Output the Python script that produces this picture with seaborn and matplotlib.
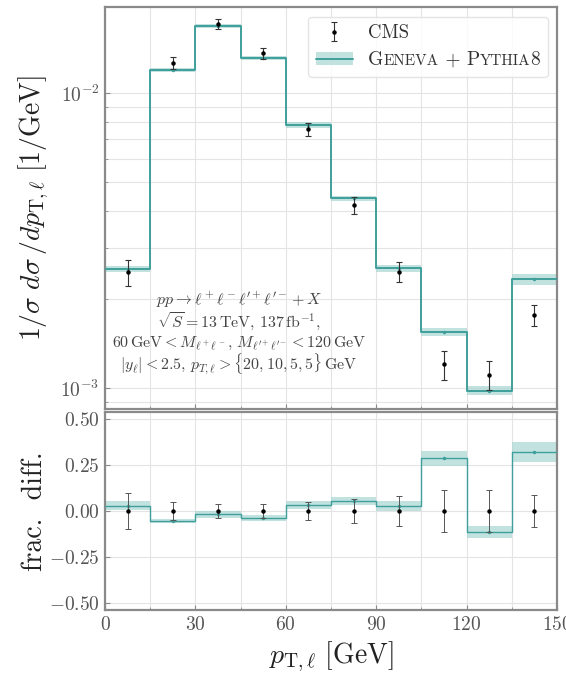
import numpy as np
import matplotlib
matplotlib.use("Agg")
import matplotlib.pyplot as plt
import matplotlib.ticker as mticker
import seaborn as sns
from matplotlib.patches import Patch
from matplotlib.lines import Line2D
from matplotlib.offsetbox import TextArea, HPacker

# ---------------- data ----------------
bin_edges = [0, 15, 30, 45, 60, 75, 90, 105, 120, 135, 150]
cms = [2.47e-3, 1.27e-2, 1.722e-2, 1.366e-2, 7.55e-3, 4.18e-3, 2.485e-3, 1.206e-3, 1.109e-3, 1.772e-3]
cms_rel_err = [0.10, 0.047, 0.038, 0.040, 0.049, 0.064, 0.080, 0.112, 0.112, 0.085]
geneva = [2.54e-3, 1.20e-2, 1.69e-2, 1.314e-2, 7.80e-3, 4.41e-3, 2.55e-3, 1.553e-3, 9.83e-4, 2.34e-3]
geneva_band = [0.025, 0.012, 0.017, 0.015, 0.022, 0.020, 0.028, 0.041, 0.031, 0.053]  # relative to CMS
x_ticks = [0, 30, 60, 90, 120, 150]
ratio_ticks = [-0.50, -0.25, 0.00, 0.25, 0.50]

edges = np.array(bin_edges, dtype=float)
centers = 0.5 * (edges[:-1] + edges[1:])
cms_a = np.array(cms)
cms_err = cms_a * np.array(cms_rel_err)
gen_a = np.array(geneva)
band_abs = cms_a * np.array(geneva_band)
frac = gen_a / cms_a - 1.0
frac_band = np.array(geneva_band)

def ext(v):
    v = np.asarray(v)
    return np.append(v, v[-1])

# ---------------- style ----------------
sns.set_theme(style="whitegrid")
plt.rcParams.update({
    "font.family": "serif",
    "font.serif": ["cmr10", "DejaVu Serif"],
    "mathtext.fontset": "cm",
    "axes.formatter.use_mathtext": True,
    "axes.unicode_minus": True,
})

teal = "#3f9f9c"
band_col = "#a9d6d2"
spine_col = "#8a8a8a"
grid_col = "#e4e4e4"
tick_col = "#555555"
label_col = "#222222"

fig = plt.figure(figsize=(5.66, 6.76), dpi=100)
ax1 = fig.add_axes([0.1855, 0.3950, 0.7986, 0.5942])
ax2 = fig.add_axes([0.1855, 0.0976, 0.7986, 0.2929], sharex=ax1)

for ax in (ax1, ax2):
    ax.set_facecolor("white")
    for s in ax.spines.values():
        s.set_color(spine_col)
        s.set_linewidth(1.6)
    ax.tick_params(direction="in", length=3.5, width=0.8, color=spine_col, pad=4,
                   labelsize=14, labelcolor=tick_col, bottom=True, left=True)
    ax.tick_params(which="minor", direction="in", length=2, width=0.6, color=spine_col,
                   bottom=True, left=True)
    ax.grid(True, which="both", color=grid_col, linewidth=0.8)

# ---------------- top panel ----------------
ax1.fill_between(edges, ext(gen_a - band_abs), ext(gen_a + band_abs), step="post",
                 color=band_col, alpha=0.7, linewidth=0, zorder=2)
sns.lineplot(x=edges, y=ext(gen_a), drawstyle="steps-post", color=teal, linewidth=1.4,
             estimator=None, sort=False, ax=ax1, zorder=3)
ax1.plot(centers, gen_a, ls="none", marker="o", ms=1.5, color=teal, zorder=3)
ax1.errorbar(centers, cms_a, yerr=cms_err, fmt="o", ms=2.2, color="black",
             ecolor="#333333", elinewidth=0.8, capsize=2, capthick=0.8, zorder=4)

ax1.set_yscale("log")
ax1.set_ylim(8.51e-4, 1.956e-2)
ax1.set_xlim(0, 150)
ax1.yaxis.set_minor_locator(mticker.LogLocator(base=10, subs=np.arange(2, 10)))
ax1.yaxis.set_minor_formatter(mticker.NullFormatter())
ax1.xaxis.set_minor_locator(mticker.MultipleLocator(15))
ax1.tick_params(labelbottom=False)
ax1.set_ylabel(r"$1/\sigma\ d\sigma\, /dp_{\mathrm{T},\ell}\ [1/\mathrm{GeV}]$",
               fontsize=20, color=label_col)
ax1.yaxis.set_label_coords(-0.12, 0.5)

ann = [r"$pp \to \ell^+\ell^-\ell^{\prime +}\ell^{\prime -} + X$",
       r"$\sqrt{S} = 13\,\mathrm{TeV},\, 137\,\mathrm{fb}^{-1},$",
       r"$60\,\mathrm{GeV} < M_{\ell^+\ell^-},\, M_{\ell^{\prime +}\ell^{\prime -}} < 120\,\mathrm{GeV}$",
       r"$|y_\ell| < 2.5,\, p_{T,\ell} > \{20, 10, 5, 5\}\,\mathrm{GeV}$"]
ann_y = [300, 322, 343, 364]
for s, yp in zip(ann, ann_y):
    ax1.text((239 - 105) / 452, (409 - yp) / (409 - 7.3), s, transform=ax1.transAxes,
             ha="center", va="center", fontsize=11.5, color="#444444")

h_cms = ax1.errorbar([np.nan], [np.nan], yerr=[1.0], fmt="o", ms=2.2, color="black",
                     ecolor="#333333", elinewidth=0.8, capsize=2, capthick=0.8)
h_gen = (Patch(facecolor=band_col, alpha=0.7, edgecolor="none"),
         Line2D([], [], color=teal, linewidth=1.4))
leg = ax1.legend([h_cms, h_gen], ["CMS", "GENEVA + PYTHIA8"], loc="upper right",
                 fontsize=13.5, frameon=True, fancybox=True, framealpha=0.85,
                 edgecolor="#e0e0e0", facecolor="white", borderaxespad=0.5)
for t in leg.get_texts():
    t.set_color("#333333")

# small-caps label built from pieces
big, small = 14, 11
pieces = [("G", big), ("ENEVA", small), (" + ", big), ("P", big), ("YTHIA", small), ("8", big)]
areas = [TextArea(s, textprops=dict(va="baseline", ha="left", fontsize=fs, color="#333333",
                                    family="serif"))
         for s, fs in pieces]
sc_box = HPacker(children=areas, pad=0, sep=0, align="baseline")
try:
    col = leg._legend_handle_box.get_children()[0]
    row = col.get_children()[1]
    old = row._children[1]
    row._children[1] = sc_box
    sc_box.set_figure(fig)
    for a in areas:
        a.set_figure(fig)
        a._text.set_figure(fig)
    fig.canvas.draw()
except Exception:
    try:
        row._children[1] = old
    except Exception:
        pass

# ---------------- bottom panel ----------------
ax2.fill_between(edges, ext(frac - frac_band), ext(frac + frac_band), step="post",
                 color=band_col, alpha=0.7, linewidth=0, zorder=2)
sns.lineplot(x=edges, y=ext(frac), drawstyle="steps-post", color=teal, linewidth=1.0,
             estimator=None, sort=False, ax=ax2, zorder=3)
ax2.plot(centers, frac, ls="none", marker="o", ms=1.5, color=teal, zorder=3)
ax2.errorbar(centers, np.zeros_like(centers), yerr=np.array(cms_rel_err), fmt="o", ms=2.2,
             color="black", ecolor="#555555", elinewidth=0.7, capsize=2, capthick=0.7, zorder=4)
ax2.set_ylim(-0.538, 0.538)
ax2.set_yticks(ratio_ticks)
ax2.yaxis.set_major_formatter(mticker.FuncFormatter(lambda v, p: r"$%.2f$" % v))
ax2.set_xticks(x_ticks)
ax2.xaxis.set_minor_locator(mticker.MultipleLocator(15))
ax2.set_xlim(0, 150)
ax2.set_ylabel("frac.  diff.", fontsize=20, color=label_col)
ax2.yaxis.set_label_coords(-0.125, 0.5)
ax2.set_xlabel(r"$p_{\mathrm{T},\ell}\ [\mathrm{GeV}]$", fontsize=20, color=label_col)

fig.savefig("out.png", dpi=100)
